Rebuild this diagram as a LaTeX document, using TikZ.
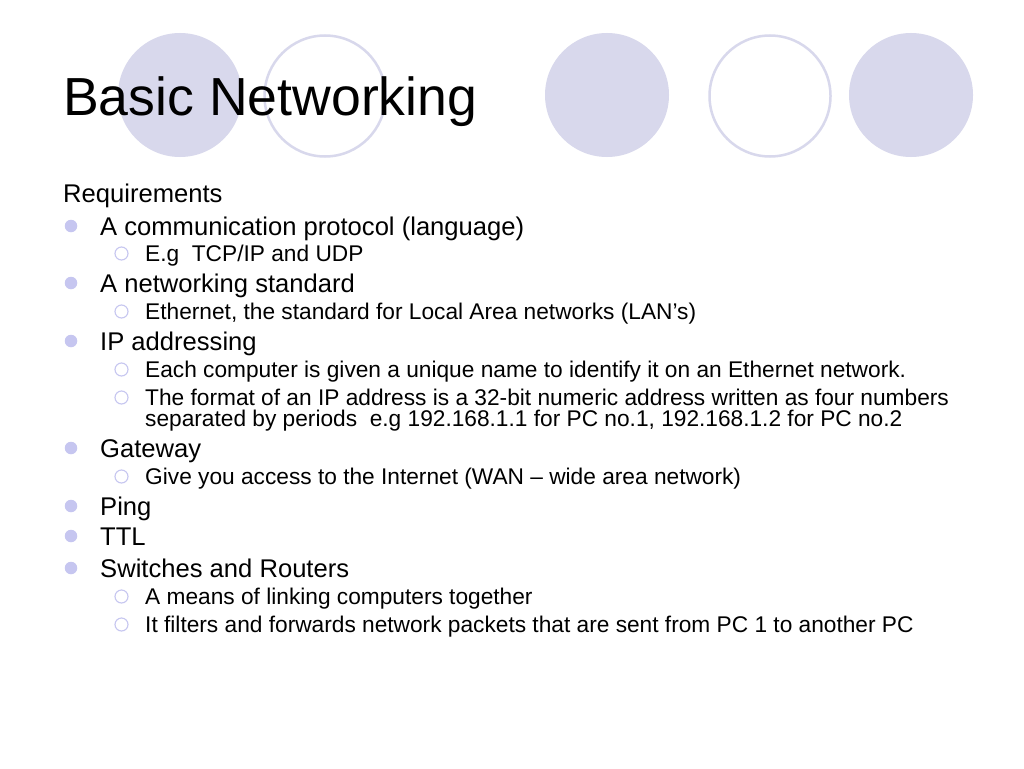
\documentclass[tikz,border=0pt]{standalone}
\usepackage{fontspec}
\setmainfont{Liberation Sans}
\definecolor{deco}{RGB}{216,216,236}
\definecolor{bul}{RGB}{198,198,240}
\begin{document}
\begin{tikzpicture}[x=1pt,y=-1pt,
  bigfill/.style={fill=deco,draw=none},
  bigring/.style={draw=deco,line width=2.5pt,fill=none},
  titletext/.style={anchor=base west,inner sep=0pt,font=\fontsize{53.6}{60}\selectfont},
  lvlone/.style={anchor=base west,inner sep=0pt,font=\fontsize{25.6}{30}\selectfont},
  lvltwo/.style={anchor=base west,inner sep=0pt,font=\fontsize{22.7}{24}\selectfont,align=left},
  bulone/.style={circle,fill=bul,draw=none,minimum size=12.5pt,inner sep=0pt},
  bultwo/.style={circle,draw=bul,line width=1.1pt,fill=none,minimum size=13pt,inner sep=0pt}]
\useasboundingbox (0,0) rectangle (1024,768);
\fill[white] (0,0) rectangle (1024,768);
% decorative circles
\fill[bigfill] (180,95) circle (62);
\draw[bigring] (325,96) circle (60.5);
\fill[bigfill] (607,95) circle (62);
\draw[bigring] (770,96) circle (60.5);
\fill[bigfill] (911,95) circle (62);
% title
\node[titletext] (title) at (63,115) {Basic Networking};
% body
\node[lvlone] (req) at (63,202) {Requirements};
\node[bulone] (b1) at (71,226) {};
\node[lvlone] (t1) at (100,235) {A communication protocol (language)};
\node[bultwo] (b2) at (121.5,253.5) {};
\node[lvltwo] (t2) at (145,261) {E.g~ TCP/IP and UDP};
\node[bulone] (b3) at (71,283) {};
\node[lvlone] (t3) at (100,292) {A networking standard};
\node[bultwo] (b4) at (121.5,311.5) {};
\node[lvltwo] (t4) at (145,319) {Ethernet, the standard for Local Area networks (LAN’s)};
\node[bulone] (b5) at (71,341) {};
\node[lvlone] (t5) at (100,350) {IP addressing};
\node[bultwo] (b6) at (121.5,369.5) {};
\node[lvltwo] (t6) at (145,377) {Each computer is given a unique name to identify it on an Ethernet network.};
\node[bultwo] (b7) at (121.5,397.5) {};
\node[lvltwo] (t7) at (145,405) {The format of an IP address is a 32-bit numeric address written as four numbers};
\node[lvltwo] (t7b) at (145,426) {separated by periods~ e.g 192.168.1.1 for PC no.1, 192.168.1.2 for PC no.2};
\node[bulone] (b8) at (71,448) {};
\node[lvlone] (t8) at (100,457) {Gateway};
\node[bultwo] (b9) at (121.5,476.5) {};
\node[lvltwo] (t9) at (145,484) {Give you access to the Internet (WAN – wide area network)};
\node[bulone] (b10) at (71,506) {};
\node[lvlone] (t10) at (100,515) {Ping};
\node[bulone] (b11) at (71,536) {};
\node[lvlone] (t11) at (100,545) {TTL};
\node[bulone] (b12) at (71,568) {};
\node[lvlone] (t12) at (100,577) {Switches and Routers};
\node[bultwo] (b13) at (121.5,596.5) {};
\node[lvltwo] (t13) at (145,604) {A means of linking computers together};
\node[bultwo] (b14) at (121.5,624.5) {};
\node[lvltwo] (t14) at (145,632) {It filters and forwards network packets that are sent from PC 1 to another PC};
\end{tikzpicture}
\end{document}
